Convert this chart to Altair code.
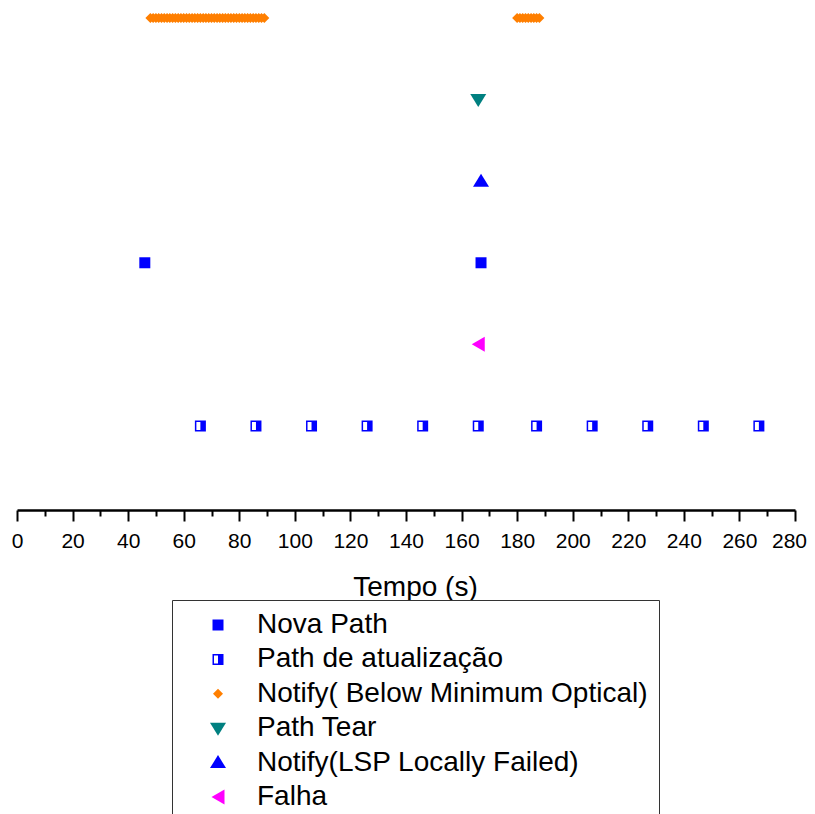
import altair as alt
import pandas as pd

# ---- data ----
nova_path_t = [46, 167]
path_atual_t = [66, 86, 106, 126, 146, 166, 187, 207, 227, 247, 267]
notify_below_t = [48, 49, 50, 51, 52, 53, 54, 55, 56, 57, 58, 59, 60, 61, 62, 63, 64, 65,
                  66, 67, 68, 69, 70, 71, 72, 73, 74, 75, 76, 77, 78, 79, 80, 81, 82, 83,
                  84, 85, 86, 87, 88, 89,
                  180, 181, 182, 183, 184, 185, 186, 187, 188]
path_tear_t = [166]
notify_lsp_t = [167]
falha_t = [166]

series_names = ["Nova Path", "Path de atualização", "Notify( Below Minimum Optical)",
                "Path Tear", "Notify(LSP Locally Failed)", "Falha"]
series_times = [nova_path_t, path_atual_t, notify_below_t, path_tear_t, notify_lsp_t, falha_t]
series_rows = [3, 1, 6, 5, 4, 2]
series_colors = ["#0000FF", "#0000FF", "#FF7F00", "#008080", "#0000FF", "#FF00FF"]
series_shapes = [
    "M-1.1,-1.1H1.1V1.1H-1.1Z",
    "M-1.1,-1.1H1.1V1.1H-1.1Z M-0.8,-0.8V0.8H0V-0.8Z",
    "M0,-1L1,0L0,1L-1,0Z",
    "M-1.6,-1.1L1.6,-1.1L0,1.5Z",
    "M0,-1.5L1.6,1.1L-1.6,1.1Z",
    "M-1.3,0L1.3,-1.5L1.3,1.5Z",
]
x_ticks = list(range(0, 290, 10))

records = []
for name, times, row in zip(series_names, series_times, series_rows):
    for t in times:
        records.append({"series": name, "t": t, "row": row})
df = pd.DataFrame(records)

FONT = "Liberation Sans"

legend = alt.Legend(
    orient="none", legendX=155, legendY=591, title=None,
    padding=11, strokeColor="#333333", cornerRadius=0, fillColor="white",
    labelFont=FONT, labelFontSize=28, labelColor="black", labelLimit=0,
    labelOffset=25, symbolOffset=21, rowPadding=6.4, symbolSize=100,
    symbolStrokeWidth=0,
)

chart = alt.Chart(df).mark_point(filled=True, size=100, opacity=1, strokeWidth=0).encode(
    x=alt.X("t:Q", title="Tempo (s)",
            scale=alt.Scale(domain=[0, 280], nice=False, zero=False),
            axis=alt.Axis(values=x_ticks,
                          labelExpr="datum.value % 20 === 0 ? datum.label : ''",
                          grid=False, domainColor="black", domainWidth=2.5,
                          tickColor="black", tickWidth=2,
                          tickSize={"condition": {"test": "datum.value % 20 === 0", "value": 11}, "value": 6},
                          labelOffset={"condition": {"test": "datum.value === 280", "value": -6}, "value": 0},
                          labelFont=FONT, labelFontSize=21, labelColor="black", labelPadding=9,
                          labelFlush=False, labelOverlap=False,
                          titleFont=FONT, titleFontSize=28, titleFontWeight="normal",
                          titleColor="black", titlePadding=22, titleX=398)),
    y=alt.Y("row:Q", scale=alt.Scale(domain=[-0.03, 6.11], nice=False, zero=False), axis=None),
    color=alt.Color("series:N", scale=alt.Scale(domain=series_names, range=series_colors), legend=legend),
    shape=alt.Shape("series:N", scale=alt.Scale(domain=series_names, range=series_shapes), legend=legend),
).properties(
    width=778, height=501,
    autosize=alt.AutoSizeParams(type="none"),
    padding={"left": 9, "top": 1, "right": 12, "bottom": 304},
).configure_view(stroke=None)

chart.save("out.html", embed_options={"renderer": "svg", "actions": False})
